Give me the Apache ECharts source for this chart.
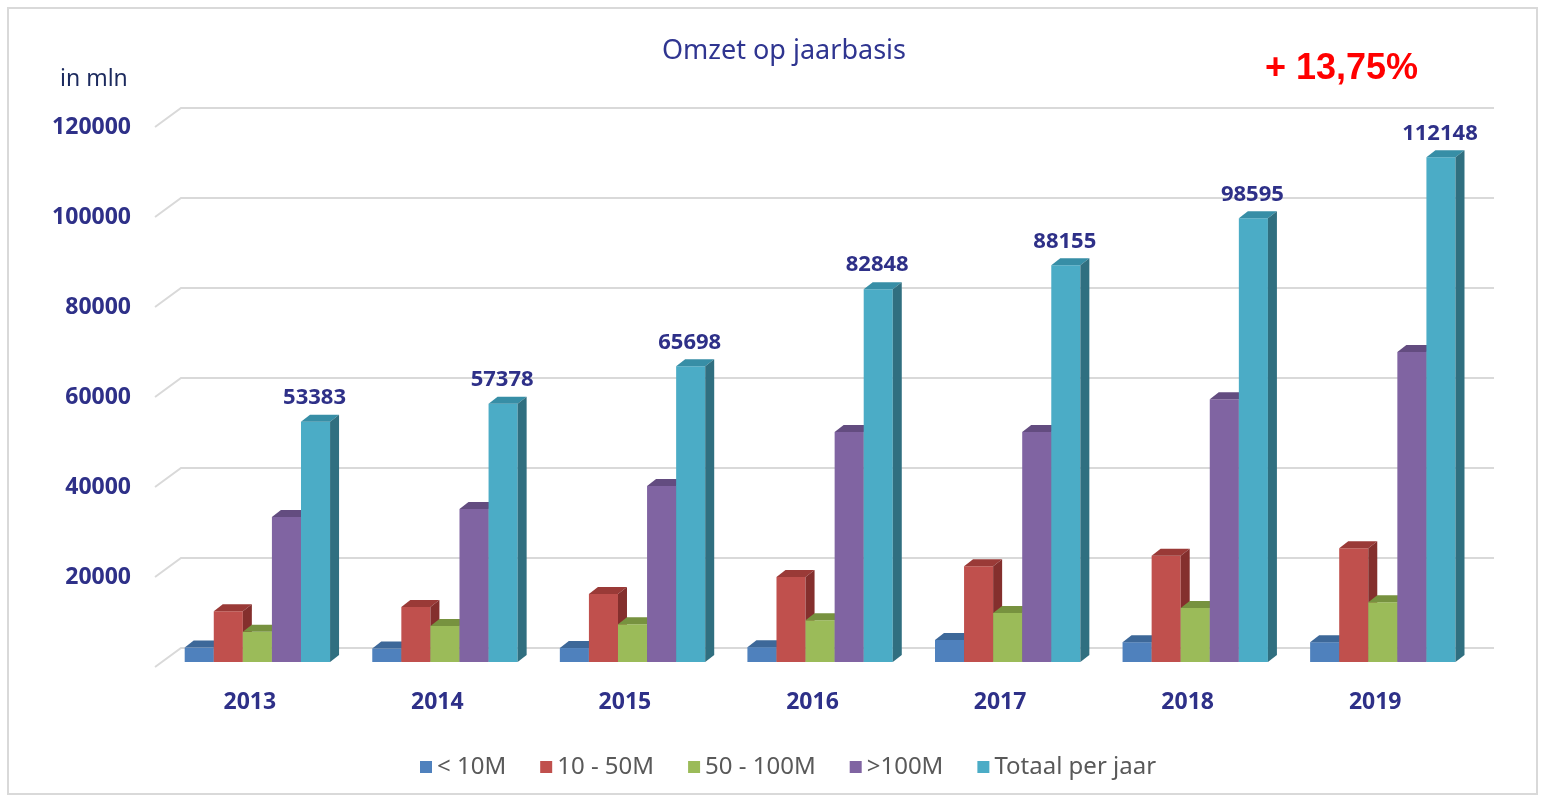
<!DOCTYPE html>
<html>
<head>
<meta charset="utf-8">
<title>Omzet op jaarbasis</title>
<script src="https://cdn.jsdelivr.net/npm/echarts@6/dist/echarts.min.js"></script>
<style>
  html, body { margin: 0; padding: 0; background: #fff; }
  #chart { width: 1541px; height: 798px; }
</style>
</head>
<body>
<div id="chart"></div>
<script>
// data (in mln)
const years = ["2013", "2014", "2015", "2016", "2017", "2018", "2019"];
const lt10M = [3200, 3000, 3100, 3300, 4900, 4400, 4400];
const m10to50M = [11300, 12200, 15100, 18900, 21300, 23600, 25300];
const m50to100M = [6700, 8000, 8400, 9300, 10900, 12000, 13300];
const gt100M = [32200, 34000, 39100, 51100, 51100, 58400, 68900];
const totaalPerJaar = [53383, 57378, 65698, 82848, 88155, 98595, 112148];
const yTicks = [0, 20000, 40000, 60000, 80000, 100000, 120000];

const navy = "#2E3088";
const font = "Noto Sans";

// front / top / side colours per series
const faces = [
  { name: "< 10M", data: lt10M, front: "#4F81BD", top: "#3D6899", side: "#385D8A" },
  { name: "10 - 50M", data: m10to50M, front: "#C0504D", top: "#9A3A37", side: "#842F2D" },
  { name: "50 - 100M", data: m50to100M, front: "#9BBB59", top: "#77923F", side: "#6A8438" },
  { name: ">100M", data: gt100M, front: "#8064A2", top: "#634C80", side: "#5A4574" },
  { name: "Totaal per jaar", data: totaalPerJaar, front: "#4BACC6", top: "#378EA6", side: "#306F80" },
];

const DX = 9, DY = 7; // bar depth

function bar3d(si, f, withLabel) {
  return function (params, api) {
    const idx = api.value(0);
    const val = api.value(1);
    const top = api.coord([idx, val]);
    const base = api.coord([idx, 0]);
    const band = api.size([1, 0])[0];
    const w = band * 0.155;
    const x = top[0] - band * 0.347 + si * w;
    const t = top[1], b = base[1];
    const children = [
      { type: "rect", shape: { x: x, y: t, width: w, height: b - t }, style: { fill: f.front } },
      { type: "polygon", shape: { points: [[x, t], [x + DX, t - DY], [x + w + DX, t - DY], [x + w, t]] }, style: { fill: f.top } },
      { type: "polygon", shape: { points: [[x + w, t], [x + w + DX, t - DY], [x + w + DX, b - DY], [x + w, b]] }, style: { fill: f.side } },
    ];
    if (withLabel) {
      children.push({
        type: "text",
        style: {
          text: String(val), x: x + w / 2 - 1, y: t - 13,
          align: "center", verticalAlign: "bottom",
          font: "bold 22px '" + font + "'", fill: navy,
        },
      });
    }
    return { type: "group", children: children };
  };
}

const chart = echarts.init(document.getElementById("chart"));

const series = [
  {
    // back wall gridlines with the perspective diagonals
    type: "custom",
    name: "grid",
    silent: true,
    z: 1,
    data: yTicks.map((v) => [0, v]),
    renderItem: function (params, api) {
      const cs = params.coordSys;
      const y = api.coord([0, api.value(1)])[1];
      return {
        type: "polyline",
        shape: { points: [[cs.x - 1, y + 5], [cs.x + 25, y - 14], [cs.x + cs.width + 25, y - 14]] },
        style: { stroke: "#D9D9D9", lineWidth: 2, fill: null },
      };
    },
  },
];
faces.forEach((f, i) => {
  series.push({
    type: "custom",
    name: f.name,
    z: 2 + i,
    itemStyle: { color: f.front },
    data: f.data.map((v, k) => [k, v]),
    renderItem: bar3d(i, f, i === faces.length - 1),
  });
});

chart.setOption({
  animation: false,
  title: [
    { text: "Omzet op jaarbasis", left: 779, top: 33, textAlign: "center",
      textStyle: { fontFamily: font, fontWeight: "normal", fontSize: 27, color: "#2F3590" } },
    { text: "in mln", left: 55, top: 63,
      textStyle: { fontFamily: font, fontWeight: "normal", fontSize: 23, color: "#1C2A5E" } },
    { text: "+ 13,75%", left: 1260, top: 46,
      textStyle: { fontFamily: "Liberation Sans", fontWeight: "bold", fontSize: 36, color: "#FF0000" } },
  ],
  grid: { left: 156, right: 72, top: 122, bottom: 136 },
  legend: {
    data: faces.map((f) => f.name),
    left: 415, top: 750,
    icon: "rect", itemWidth: 12, itemHeight: 12, itemGap: 34,
    selectedMode: false,
    textStyle: { fontFamily: font, fontSize: 24, color: "#595959" },
  },
  xAxis: {
    type: "category",
    data: years,
    axisLine: { show: false },
    axisTick: { show: false },
    axisLabel: { margin: 29, fontFamily: font, fontWeight: "bold", fontSize: 23, color: navy },
  },
  yAxis: {
    type: "value",
    min: 0, max: 120000, interval: 20000,
    axisLine: { show: false },
    axisTick: { show: false },
    splitLine: { show: false },
    axisLabel: {
      margin: 25, fontFamily: font, fontWeight: "bold", fontSize: 23, color: navy,
      verticalAlign: "top", lineHeight: 10,
      formatter: (v) => (v === 0 ? "" : String(v)),
    },
  },
  graphic: [
    { type: "rect", shape: { x: 8, y: 8, width: 1529, height: 786 },
      style: { fill: null, stroke: "#D9D9D9", lineWidth: 2 }, silent: true },
  ],
  series: series,
});
</script>
</body>
</html>
